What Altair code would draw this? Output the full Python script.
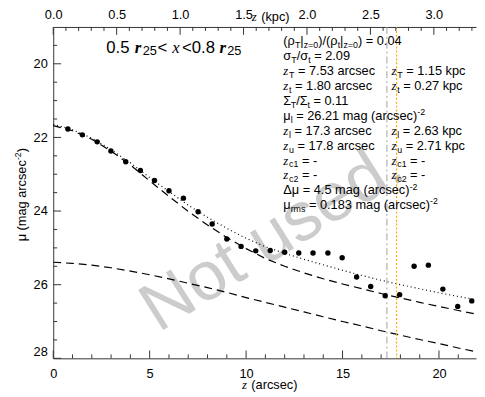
import altair as alt
import pandas as pd

# ---------------- data ----------------
z_obs = [0.76, 1.51, 2.28, 2.99, 3.76, 4.52, 5.25, 6.00, 6.75, 7.51, 8.24, 9.00, 9.74,
         10.50, 11.25, 12.00, 12.73, 13.47, 14.24, 14.98, 15.73, 16.46, 17.21, 17.96,
         18.71, 19.45, 20.20, 20.97, 21.70]
mu_obs = [21.77, 21.93, 22.12, 22.37, 22.66, 22.90, 23.17, 23.45, 23.65, 24.02, 24.35, 24.76, 24.96,
          25.08, 25.07, 25.12, 25.14, 25.14, 25.14, 25.27, 25.79, 26.05, 26.30, 26.27,
          25.50, 25.47, 26.12, 26.59, 26.44]

z_model = [0, 1, 2, 3, 4, 5, 6, 7, 8, 9, 10, 11, 12, 13, 14, 15, 16, 17, 18, 19, 20, 21, 21.92]
mu_thin = [21.68, 21.82, 22.05, 22.37, 22.75, 23.18, 23.60, 24.01, 24.38, 24.72, 25.02, 25.29,
           25.50, 25.68, 25.84, 25.98, 26.11, 26.24, 26.36, 26.48, 26.59, 26.70, 26.80]
mu_thick = [25.39, 25.42, 25.47, 25.54, 25.63, 25.73, 25.84, 25.96, 26.08, 26.21, 26.35, 26.48,
            26.61, 26.74, 26.87, 27.00, 27.12, 27.25, 27.37, 27.49, 27.60, 27.72, 27.82]
mu_total = [21.64, 21.79, 22.02, 22.33, 22.69, 23.09, 23.47, 23.84, 24.17, 24.47, 24.74, 24.97,
            25.15, 25.31, 25.46, 25.61, 25.75, 25.88, 26.00, 26.11, 26.22, 26.32, 26.41]

z_limits = [17.3, 17.8]          # z_l, z_u (arcsec)
ARCSEC_PER_KPC = 6.578

x_major = [0, 5, 10, 15, 20]
x_minor = [1, 2, 3, 4, 6, 7, 8, 9, 11, 12, 13, 14, 16, 17, 18, 19, 21]
y_major = [20, 22, 24, 26, 28]
y_minor = [19.5, 20.5, 21, 21.5, 22.5, 23, 23.5, 24.5, 25, 25.5, 26.5, 27, 27.5]
kpc_major = [0.0, 0.5, 1.0, 1.5, 2.0, 2.5, 3.0]
kpc_minor = [0.1, 0.2, 0.3, 0.4, 0.6, 0.7, 0.8, 0.9, 1.1, 1.2, 1.3, 1.4, 1.6, 1.7, 1.8, 1.9,
             2.1, 2.2, 2.3, 2.4, 2.6, 2.7, 2.8, 2.9, 3.1, 3.2, 3.3]

title_segs = [("0.5", "T"), ("r", "Tr"), ("25", "Tsub"), ("<", "T"), ("x", "Tx"),
              ("<0.8", "T"), ("r", "Tr"), ("25", "Tsub")]
title_x = [108, 137, 145, 160, 175, 185, 223, 231]

left_lines = [
    [("(", "n"), ("ρ", "n"), ("T", "sub"), ("|", "n"), ("z=0", "sub"), (")/(", "n"), ("ρ", "n"),
     ("t", "sub"), ("|", "n"), ("z=0", "sub"), (")", "n"), (" = 0.04", "n")],
    [("σ", "n"), ("T", "sub"), ("/σ", "n"), ("t", "sub"), (" = 2.09", "n")],
    [("z", "i"), ("T", "sub"), (" = 7.53 arcsec", "n")],
    [("z", "i"), ("t", "sub"), (" = 1.80 arcsec", "n")],
    [("Σ", "n"), ("T", "sub"), ("/Σ", "n"), ("t", "sub"), (" = 0.11", "n")],
    [("μ", "n"), ("l", "sub"), (" = 26.21 mag (arcsec)", "n"), ("-2", "sup")],
    [("z", "i"), ("l", "sub"), (" = 17.3 arcsec", "n")],
    [("z", "i"), ("u", "sub"), (" = 17.8 arcsec", "n")],
    [("z", "i"), ("c1", "sub"), (" = -", "n")],
    [("z", "i"), ("c2", "sub"), (" = -", "n")],
    [("Δμ = 4.5 mag (arcsec)", "n"), ("-2", "sup")],
    [("μ", "n"), ("rms", "sub"), (" = 0.183 mag (arcsec)", "n"), ("-2", "sup")],
]
right_lines = {
    2: [("z", "i"), ("T", "sub"), (" = 1.15 kpc", "n")],
    3: [("z", "i"), ("t", "sub"), (" = 0.27 kpc", "n")],
    6: [("z", "i"), ("l", "sub"), (" = 2.63 kpc", "n")],
    7: [("z", "i"), ("u", "sub"), (" = 2.71 kpc", "n")],
    8: [("z", "i"), ("c1", "sub"), (" = -", "n")],
    9: [("z", "i"), ("c2", "sub"), (" = -", "n")],
}
xtitle_segs = [("z", "i"), (" (arcsec)", "n")]
toptitle_segs = [("z", "i"), (" (kpc)", "n")]
ytitle_segs = [("μ (mag arcsec", "n"), ("-2", "sup"), (")", "n")]
watermark = "Not used."

# ---------------- layout ----------------
W, H = 430, 337
PAD_L, PAD_T = 46, 16
X_MAX = 21.92
Y_MIN, Y_MAX = 19.0, 28.0
PX0, PY0 = 8 + PAD_L, 8 + PAD_T


def to_z(px):
    return (px - PX0) * X_MAX / W


def to_mu(py):
    return Y_MIN + (py - PY0) * (Y_MAX - Y_MIN) / H


SANS = {' ': 278, '(': 333, ')': 333, '/': 278, '|': 260, '=': 584, '.': 278, '-': 333,
        '<': 584, 'a': 556, 'r': 333, 'c': 500, 's': 500, 'e': 556, 'm': 833, 'g': 556,
        'k': 500, 'p': 556, 'l': 222, 't': 278, 'u': 556, 'T': 611, 'z': 500, 'x': 500,
        'ρ': 578, 'σ': 621, 'Σ': 592, 'μ': 576, 'Δ': 668}
SERIF_I = {'z': 389, 'x': 444, 'r': 389}
STYLE = {'n': ('sans', 13, 0), 'i': ('si', 13, 0), 'sub': ('sans', 9, 3), 'sup': ('sans', 9, -5),
         'T': ('sans', 17, 0), 'Tr': ('sbi', 17, 0), 'Tx': ('si', 17, 0), 'Tsub': ('sans', 13, 2)}


def seg_w(text, fam, size):
    tab = SERIF_I if fam in ('si', 'sbi') else SANS
    return sum(tab.get(c, 556) for c in text) * size / 1000.0


rows = []


def place(segs, x0, base, xs=None):
    x = x0
    for k, (text, st) in enumerate(segs):
        fam, size, dy = STYLE[st]
        if xs is not None:
            x = xs[k]
        core = text.lstrip(" ")
        x += seg_w(text[:len(text) - len(core)], fam, size)   # leading blanks -> offset
        rows.append(dict(z=to_z(x), mu=to_mu(base + dy), text=core, size=size, fam=fam))
        x += seg_w(core, fam, size) + (0.8 if fam == 'si' else 0)


for i, segs in enumerate(left_lines):
    base = 42.3 + 15.2 * i
    place(segs, 288, base)
    if i in right_lines:
        place(right_lines[i], 398, base)
place(title_segs, 108, 50, title_x)
place(xtitle_segs, 246, 392)
place(toptitle_segs, 256, 18)
txt = pd.DataFrame(rows)

# rotated y title
rot_rows = []
y = 242.0
for text, st in ytitle_segs:
    fam, size, dy = STYLE[st]
    rot_rows.append(dict(z=to_z(26.5 + dy), mu=to_mu(y), text=text, size=size))
    y -= seg_w(text, fam, size)
rot = pd.DataFrame(rot_rows)

wm = pd.DataFrame([dict(z=to_z(277), mu=to_mu(238), text=watermark)])

# ---------------- chart ----------------
xs = alt.Scale(domain=[0, X_MAX], nice=False, zero=False)
ys = alt.Scale(domain=[Y_MIN, Y_MAX], reverse=True, nice=False, zero=False)
AX = dict(labelFont="Liberation Sans", labelFontSize=13, labelColor="black",
          domainColor="#333333", domainWidth=1, ticks=False, tickSize=0, grid=False, title=None)


def X(field, axis=None):
    return alt.X(field, type="quantitative", scale=xs, axis=axis)


def Y(field, axis=None):
    return alt.Y(field, type="quantitative", scale=ys, axis=axis)


obs = pd.DataFrame({"z": z_obs, "mu": mu_obs})
model = pd.DataFrame({"z": z_model, "thin": mu_thin, "thick": mu_thick, "total": mu_total})
lims = pd.DataFrame({"z": z_limits, "kind": ["lower", "upper"]})

wm_layer = alt.Chart(wm).mark_text(font="Liberation Sans", fontSize=70, color="#cccccc",
                                   angle=328, align="center", baseline="middle").encode(
    x=X("z"), y=Y("mu"), text="text:N")

thick = alt.Chart(model).mark_line(color="black", strokeWidth=1.2, strokeDash=[8, 5]).encode(
    x=X("z"), y=Y("thick"))
thin = alt.Chart(model).mark_line(color="black", strokeWidth=1.2, strokeDash=[8, 5]).encode(
    x=X("z"), y=Y("thin"))
total = alt.Chart(model).mark_line(color="black", strokeWidth=1.2, strokeDash=[1, 3]).encode(
    x=X("z"), y=Y("total"))

vl_grey = alt.Chart(lims[lims.kind == "lower"]).mark_rule(
    color="#a0a0a0", strokeWidth=1, strokeDash=[7, 3, 2, 3]).encode(
    x=X("z"), y=alt.value(0), y2=alt.value(H))
vl_orange = alt.Chart(lims[lims.kind == "upper"]).mark_rule(
    color="#ffa500", strokeWidth=1.2, strokeDash=[2, 2]).encode(
    x=X("z"), y=alt.value(0), y2=alt.value(H))

pts = alt.Chart(obs).mark_circle(color="black", opacity=1, size=30).encode(
    x=X("z", alt.Axis(values=x_major, format="d", labelPadding=10, labelFlush=False, **AX)),
    y=Y("mu", alt.Axis(values=y_major, format="d", labelPadding=6, labelFlush=True, **AX)))

TK = "#333333"
bx_maj = alt.Chart(pd.DataFrame({"z": x_major})).mark_rule(color=TK).encode(
    x=X("z"), y=alt.value(H), y2=alt.value(H - 8))
bx_min = alt.Chart(pd.DataFrame({"z": x_minor})).mark_rule(color=TK).encode(
    x=X("z"), y=alt.value(H), y2=alt.value(H - 4))
ly_maj = alt.Chart(pd.DataFrame({"mu": y_major})).mark_rule(color=TK).encode(
    y=Y("mu"), x=alt.value(0), x2=alt.value(8))
ly_min = alt.Chart(pd.DataFrame({"mu": y_minor})).mark_rule(color=TK).encode(
    y=Y("mu"), x=alt.value(0), x2=alt.value(4))
top_major_z = [k * ARCSEC_PER_KPC for k in kpc_major]
top_minor_z = [k * ARCSEC_PER_KPC for k in kpc_minor]
tx_maj = alt.Chart(pd.DataFrame({"z": top_major_z})).mark_rule(color=TK).encode(
    x=X("z", alt.Axis(orient="top", values=top_major_z, labelPadding=6, labelFlush=False,
                      labelExpr="format(datum.value / %s, '.1f')" % ARCSEC_PER_KPC, **AX)),
    y=alt.value(0), y2=alt.value(8))
tx_min = alt.Chart(pd.DataFrame({"z": top_minor_z})).mark_rule(color=TK).encode(
    x=X("z"), y=alt.value(0), y2=alt.value(4))


def text_layer(df, **kw):
    return alt.Chart(df).mark_text(align="left", baseline="alphabetic", color="black", **kw).encode(
        x=X("z"), y=Y("mu"), text="text:N", size=alt.Size("size:Q", scale=None, legend=None))


t_sans = text_layer(txt[txt.fam == "sans"], font="Liberation Sans")
t_si = text_layer(txt[txt.fam == "si"], font="Liberation Serif", fontStyle="italic")
t_sbi = text_layer(txt[txt.fam == "sbi"], font="Liberation Serif", fontStyle="italic",
                   fontWeight="bold")
t_rot = text_layer(rot, font="Liberation Sans", angle=270)

chart = alt.layer(
    wm_layer, thick, thin, total, vl_grey, vl_orange, pts,
    bx_maj, bx_min, ly_maj, ly_min, tx_maj, tx_min,
    t_sans, t_si, t_sbi, t_rot,
).resolve_axis(x="independent", y="independent").properties(
    width=W, height=H,
    autosize=alt.AutoSizeParams(type="none"),
    padding={"left": PAD_L, "top": PAD_T, "right": 1, "bottom": 34},
).configure_view(stroke=None).configure_axis(grid=False)

chart.save("out.html", embed_options={"renderer": "svg", "actions": False})
